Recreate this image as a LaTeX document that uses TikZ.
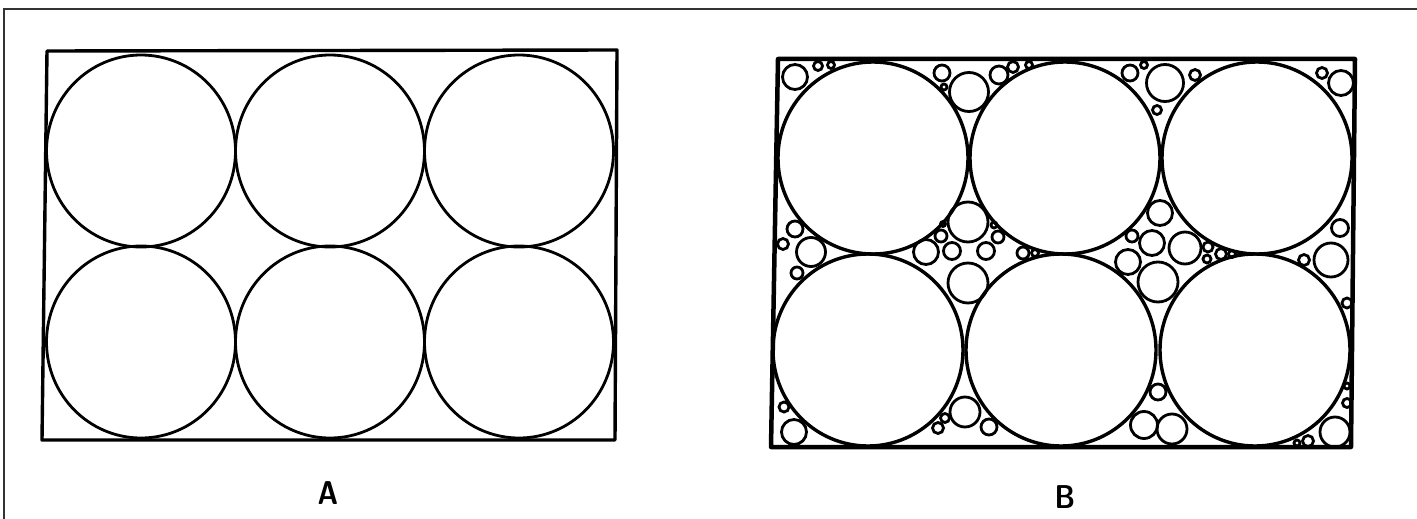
\documentclass[tikz,border=0pt]{standalone}
\usepackage{fontspec}
\begin{document}
\begin{tikzpicture}[x=1pt,y=-1pt,
  frame/.style={line width=2pt,black!80},
  boxA/.style={line width=3.4pt,line join=round},
  bigA/.style={line width=2.8pt},
  boxB/.style={line width=4.5pt,line join=round},
  bigB/.style={line width=3.4pt},
  smallB/.style={line width=2.8pt},
  lbl/.style={font=\fontsize{33}{33}\selectfont\sffamily\bfseries,inner sep=0pt,xscale=0.85}]
\useasboundingbox (0,0) rectangle (1417,519);
% outer frame
\draw[frame] (4,519) -- (4,9) -- (1417,9);
% ---------- Panel A ----------
\draw[boxA] (47,51) -- (617,50) -- (615,440) -- (42,440) -- cycle;
\foreach \cx in {141,330,519}{
  \draw[bigA] (\cx,151) circle[x radius=94.5pt,y radius=96pt];
  \draw[bigA] (\cx,342) circle[x radius=94.5pt,y radius=96pt];
}
\node[lbl] (labA) at (328,493) {A};
% ---------- Panel B ----------
\draw[boxB] (778,59) -- (1355,59) -- (1351,447) -- (771,447) -- cycle;
\foreach \cx in {873,1065,1257}{
  \draw[bigB] (\cx,158) circle[x radius=95pt,y radius=96pt];
}
\foreach \cx in {868,1061,1255}{
  \draw[bigB] (\cx,350) circle[x radius=95pt,y radius=96pt];
}
\foreach \x/\y/\r in {
  % top-left corner
  795/77/12.5, 818/66/4.5, 831/65/3.5,
  % top gap 1-2
  969/92/19.5, 942/73/8, 944/87/3, 999/75/9, 1013/67/5.5, 1029/65/3.5,
  % top gap 2-3
  1165/83/18.5, 1130/73/8, 1144/65/3.5, 1195/75/5.5, 1157/110/4.5,
  % top-right corner
  1322/73/5.5, 1341/83/12.5,
  % left gap
  795/229/8, 783/244/5.5, 811/252/14.5, 797/273/6,
  % middle-left gap
  968/222/20, 968/283/20, 926/252/12.5, 952/251/8.5, 986/251/8.5,
  941/236/6, 998/237/6, 943/224/2.5, 994/225/3, 1023/253/6, 1035/253/3.5,
  % middle-right gap
  1160/213/12.5, 1132/236/6, 1152/243/12.5, 1128/262/12.5, 1185/248/16,
  1158/282/20, 1208/247/5, 1207/259/4, 1221/254/5.5, 1232/254/3.5,
  % right gap
  1340/228/8.5, 1331/260/17, 1304/260/5.5, 1347/303/5,
  % bottom-left corner
  784/407/5, 794/432/12.5,
  % bottom gap 4-5
  965/412/15, 945/418/4.5, 938/428/5.5, 989/427/8,
  % bottom gap 5-6
  1158/392/8, 1144/425/13.5, 1172/429/15,
  % bottom-right corner
  1335/432/15, 1308/441/5.5, 1297/443/3, 1347/403/4.5, 1347/386/3}{
  \draw[smallB] (\x,\y) circle[radius=\r pt];
}
\node[lbl] (labB) at (1065,497) {B};
\end{tikzpicture}
\end{document}
